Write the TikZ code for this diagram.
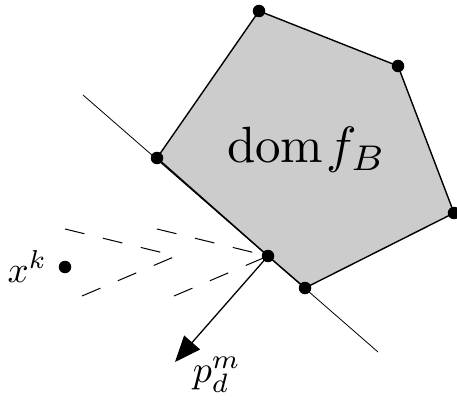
\documentclass[tikz,border=0pt]{standalone}
\usetikzlibrary{arrows.meta}
\begin{document}
\begin{tikzpicture}[x=1pt,y=-1pt,
  dot/.style={circle,fill=black,inner sep=0pt,minimum size=12.5pt},
  chev/.style={line width=1pt,dash pattern=on 20pt off 19pt},
  edge/.style={line width=1.4pt,line join=round}]
\useasboundingbox (0,0) rectangle (457,403);
\coordinate (v1) at (259,11);
\coordinate (v2) at (398,66);
\coordinate (v3) at (454,213);
\coordinate (v4) at (305,288);
\coordinate (v5) at (268,256);
\coordinate (v6) at (157,158);
\coordinate (l1) at (83,95);
\coordinate (l2) at (378,352);
\coordinate (a1) at (176,256);
\coordinate (u1) at (65,229);
\coordinate (d1) at (82,296);
\coordinate (u2) at (157,229);
\coordinate (d2) at (174,296);
\coordinate (tip) at (175,362);
\fill[black!20] (v1) -- (v2) -- (v3) -- (v4) -- (v5) -- (v6) -- cycle;
\draw[line width=0.8pt] (l1) -- (l2);
\draw[edge] (v1) -- (v2) -- (v3) -- (v4) -- (v5) -- (v6) -- cycle;
\draw[chev] (u1) -- (a1);
\draw[chev] (d1) -- (a1);
\draw[chev] (u2) -- (v5);
\draw[chev] (d2) -- (v5);
\draw[line width=1.3pt,-{Triangle[length=26pt,width=21pt]}] (v5) -- (tip);
\foreach \p in {v1,v2,v3,v4,v5,v6} \node[dot] (d\p) at (\p) {};
\node[dot] (xk) at (65,267) {};
\node[inner sep=0pt,anchor=base west,scale=3.7] (xlab) at (7,282) {$x^k$};
\node[inner sep=0pt,anchor=base west,scale=3.8] (plab) at (192,382) {$p_d^m$};
\node[inner sep=0pt,anchor=base west,scale=5.1] (dom) at (226,163) {$\mathrm{dom}\mkern1mu f_B$};
\end{tikzpicture}
\end{document}
